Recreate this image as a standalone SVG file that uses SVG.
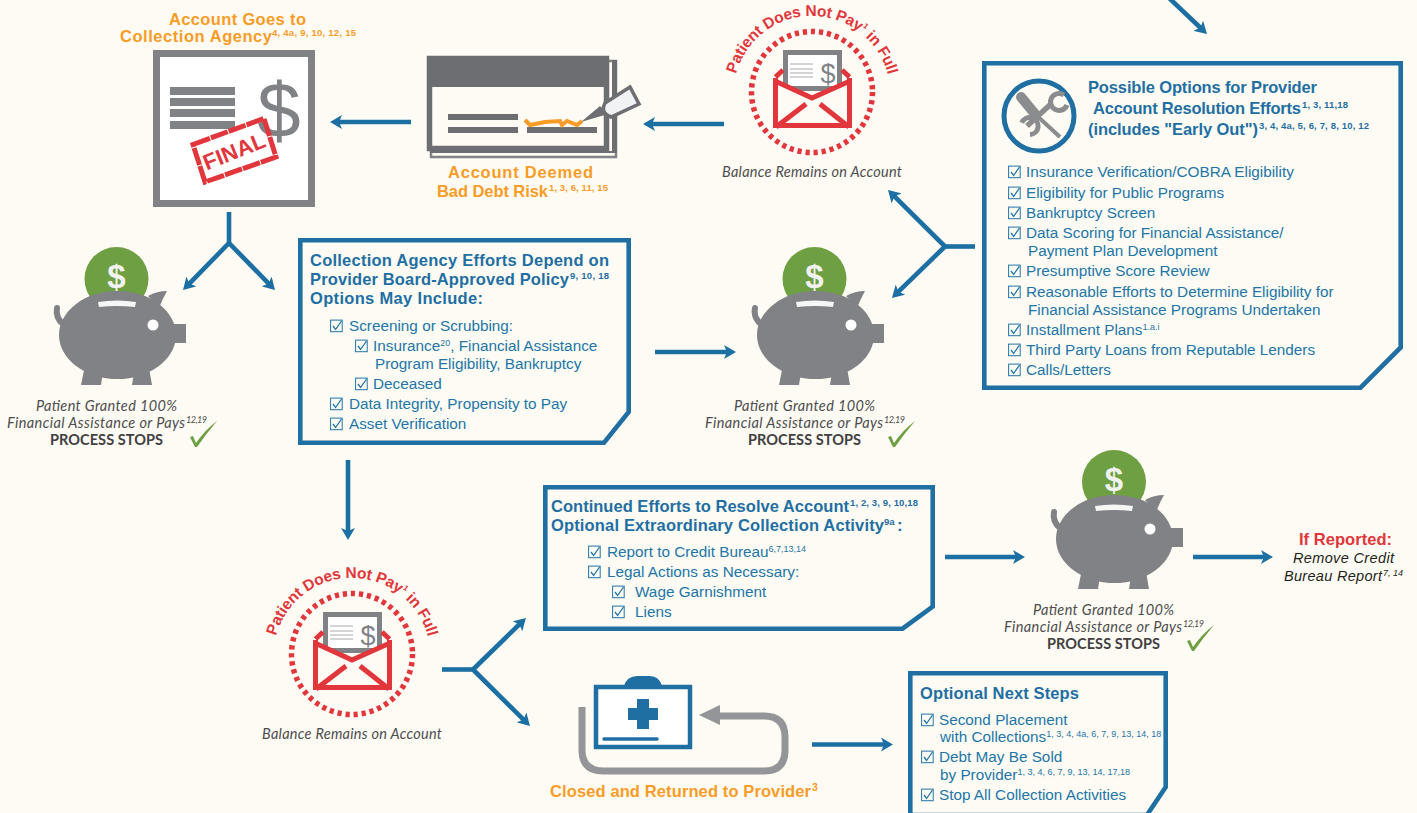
<svg xmlns="http://www.w3.org/2000/svg" xmlns:xlink="http://www.w3.org/1999/xlink" width="1417" height="813" viewBox="0 0 1417 813">
<style>
text{font-family:"Liberation Sans",Arial,sans-serif}
.hd{font-weight:700;font-size:16.5px;fill:#1f6fa3}
.hds{font-weight:700;font-size:9.5px;fill:#1f6fa3}
.it{font-size:15.3px;fill:#2176a8}
.its{font-size:9px;fill:#2176a8}
.or{font-weight:700;font-size:16.5px;fill:#f89c27}
.ors{font-weight:700;font-size:9.5px;fill:#f89c27}
.lb{font-family:Lato,"Open Sans",sans-serif;font-style:italic;font-size:14.5px;fill:#4d4d4f}
.lbs{font-family:Lato,"Open Sans",sans-serif;font-style:italic;font-size:9px;fill:#4d4d4f}
.st{font-family:Lato,"Open Sans",sans-serif;font-weight:700;font-size:14.5px;fill:#414042}
.arc{font-weight:700;font-size:15.5px;fill:#e0363c}
.box{fill:none;stroke:#1f6fa3;stroke-width:4.6}
.cn{fill:none;stroke:#1b6fa3;stroke-width:4.6}
.ar{marker-end:url(#ah)}
.usd{font-weight:700;font-size:33px;fill:#f1f2f2}
.pusd{font-size:27px;fill:#808285}
</style>
<defs>
<marker id="ah" markerUnits="userSpaceOnUse" viewBox="0 0 12 14" refX="4" refY="7" markerWidth="12" markerHeight="14" orient="auto"><path d="M12 7L0 0L3 7L0 14Z" fill="#1b6fa3"/></marker>
<symbol id="cb" viewBox="0 0 13 13" width="13" height="13" overflow="visible"><rect x=".6" y=".6" width="11.6" height="11.6" fill="none" stroke="#2176a8" stroke-width="1"/><path d="M3 6.5L5.6 10L11.5 1.5" fill="none" stroke="#2176a8" stroke-width="1.3"/></symbol>
<g id="pig">
<path d="M762 325Q753 318 755 308" fill="none" stroke="#808285" stroke-width="6" stroke-linecap="round"/>
<ellipse cx="815.5" cy="335" rx="58.5" ry="44" fill="#808285"/>
<path d="M846 296Q855 291 865 291Q861 298 857 308Z" fill="#808285"/>
<rect x="866" y="324" width="18" height="19" fill="#808285"/>
<path d="M783 365L779 385H799L801 372ZM832 372L830 385H850L846 362Z" fill="#808285"/>
<path d="M796 302Q815 299 834 302L833 307Q815 305 797 307Z" fill="#f6f6f4"/>
<circle cx="851" cy="325" r="5.5" fill="#fff"/>
</g>
<g id="env">
<circle cx="812" cy="92" r="60.5" fill="none" stroke="#e0363c" stroke-width="5.5" stroke-dasharray="4.2 3.9"/>
<rect x="785.5" y="52.5" width="54" height="36" fill="#fff" stroke="#808285" stroke-width="5"/>
<path d="M790 64H813M790 69H813M790 73H813M790 77H813" stroke="#a7a9ac" stroke-width="1"/>
<path d="M775 80L812 97L850 80V126H775Z" fill="#fdfbf3"/>
<path d="M775.5 77L783 70M849.5 77L842 70M775.5 78V125.500H849.500V78M775 81L812 98L850 81M776 127L806 104M849 127L820 104" fill="none" stroke="#e0363c" stroke-width="5"/>
</g>
<path id="a1" d="M736 74A78.600 78.600 0 0 1 888 75"/>
<path id="a2" d="M276 636A78.600 78.600 0 0 1 428 637"/>
</defs>
<rect width="1417" height="813" fill="#fdfbf3"/>

<g id="connectors">
<path class="cn ar" d="M1168-3L1201.200 28.500"/>
<path class="cn ar" d="M411 122H338"/>
<path class="cn ar" d="M724 124H651"/>
<path class="cn" d="M229 212V243"/>
<path class="cn ar" d="M229 243L188.600 284.300"/>
<path class="cn ar" d="M229 243L269.400 284.300"/>
<path class="cn" d="M975 246.500H945"/>
<path class="cn ar" d="M945 246.500L893.700 195.600"/>
<path class="cn ar" d="M945 246.500L897.700 292.400"/>
<path class="cn ar" d="M655 352H728"/>
<path class="cn ar" d="M348 460V532"/>
<path class="cn" d="M442 669.500H473"/>
<path class="cn ar" d="M473 669.500L520.200 623.500"/>
<path class="cn ar" d="M473 669.500L524.300 720.300"/>
<path class="cn ar" d="M945 557H1017"/>
<path class="cn ar" d="M1193 557H1265"/>
<path class="cn ar" d="M812 744.500H885"/>
</g>

<g id="node-collection-agency">
<text class="or" y="25" x="169"><tspan textLength="137">Account Goes to</tspan></text>
<text class="or" y="42" x="120"><tspan textLength="152">Collection Agency</tspan><tspan class="ors" x="272" dy="-6" textLength="84">4, 4a, 9, 10, 12, 15</tspan></text>
<rect x="156.500" y="53.500" width="155" height="150" fill="#fff" stroke="#808285" stroke-width="7"/>
<path d="M170 87h65v8h-65zM170 98h65v8h-65zM170 109h65v8h-65zM170 121h65v8h-65z" fill="#808285"/>
<text x="279" y="137" text-anchor="middle" style="font-size:78px;fill:#808285">$</text>
<path d="M193 144.500L264 118.500L276 157L205 182Z" fill="none" stroke="#e0363c" stroke-width="5" stroke-dasharray="18 1"/>
<text x="234" y="159" text-anchor="middle" transform="rotate(-22 234 151)" style="font-size:22px;font-weight:700;fill:#e0363c"><tspan textLength="65">FINAL</tspan></text>
</g>

<g id="node-bad-debt">
<rect x="431" y="61" width="185" height="96" fill="#fdfbf3" stroke="#808285" stroke-width="2.500"/>
<path d="M430 153H617V60H612V151H430Z" fill="#6d6e71"/>
<rect x="429.500" y="58.500" width="177" height="90" fill="#fdfbf3" stroke="#6d6e71" stroke-width="5.500"/>
<rect x="427" y="56" width="182" height="31" fill="#6d6e71"/>
<path d="M448 114h70v6h-70zM448 127h70v6h-70zM527 127h70v6h-70z" fill="#6d6e71"/>
<path d="M525 120L530 125L545 122L560 121L562 125L567 121L577 125L582 121" fill="none" stroke="#f89c27" stroke-width="4"/>
<path d="M581 122L600 106L608 114Z" fill="#6d6e71"/>
<path d="M605 103L630 87L639 104L611 117Q600 113 605 103Z" fill="#f1f2f4" stroke="#6d6e71" stroke-width="3.500"/>
<text class="or" y="178" x="448"><tspan textLength="145">Account Deemed</tspan></text>
<text class="or" y="197" x="437"><tspan textLength="111">Bad Debt Risk</tspan><tspan class="ors" x="549" dy="-6" textLength="59">1, 3, 6, 11, 15</tspan></text>
</g>

<g id="node-not-pay-1">
<use href="#env" xlink:href="#env"/>
<text class="arc"><textPath href="#a1" xlink:href="#a1" textLength="206">Patient Does Not Pay<tspan font-size="8" dy="-6">1</tspan><tspan dy="6"> in Full</tspan></textPath></text>
<text x="828" y="83" text-anchor="middle" class="pusd">$</text>
<text class="lb" y="177" x="722"><tspan textLength="180">Balance Remains on Account</tspan></text>
</g>

<g id="node-resolution-options">
<path class="box" d="M984.300 63.300H1400.700V347.500L1360.500 387.700H984.300Z"/>
<circle cx="1039" cy="116" r="35" fill="none" stroke="#1f6fa3" stroke-width="5"/>
<path d="M1021 97L1035 114" stroke="#8a8c8e" stroke-width="10" stroke-linecap="round"/>
<path d="M1035 114L1060 137" stroke="#8a8c8e" stroke-width="4"/>
<path d="M1052 103L1027 126" stroke="#8a8c8e" stroke-width="5.500"/>
<path d="M1064 95A8.500 8.500 0 1 0 1067 105" fill="none" stroke="#8a8c8e" stroke-width="5"/>
<path d="M1013 124A8.500 8.500 0 1 0 1019 137" transform="rotate(170 1021 130)" fill="none" stroke="#8a8c8e" stroke-width="5"/>
<text class="hd" y="93" x="1088"><tspan textLength="229">Possible Options for Provider</tspan></text>
<text class="hd" y="114" x="1093"><tspan textLength="208">Account Resolution Efforts</tspan><tspan class="hds" x="1302" dy="-6" textLength="46">1, 3, 11,18</tspan></text>
<text class="hd" y="135" x="1088"><tspan textLength="170">(includes "Early Out")</tspan><tspan class="hds" x="1259" dy="-6" textLength="110">3, 4, 4a, 5, 6, 7, 8, 10, 12</tspan></text>
<text class="it" x="1026" y="177">Insurance Verification/COBRA Eligibility</text>
<text class="it" x="1026" y="198">Eligibility for Public Programs</text>
<text class="it" x="1026" y="218">Bankruptcy Screen</text>
<text class="it" x="1026" y="238">Data Scoring for Financial Assistance/</text>
<text class="it" x="1028" y="256">Payment Plan Development</text>
<text class="it" x="1026" y="276">Presumptive Score Review</text>
<text class="it" x="1026" y="297">Reasonable Efforts to Determine Eligibility for</text>
<text class="it" x="1028" y="315">Financial Assistance Programs Undertaken</text>
<text class="it" x="1026" y="335">Installment Plans<tspan class="its" dy="-5">1.a.i</tspan></text>
<text class="it" x="1026" y="355">Third Party Loans from Reputable Lenders</text>
<text class="it" x="1026" y="375">Calls/Letters</text>
<use href="#cb" xlink:href="#cb" x="1008" y="165.500"/>
<use href="#cb" xlink:href="#cb" x="1008" y="186.500"/>
<use href="#cb" xlink:href="#cb" x="1008" y="206.500"/>
<use href="#cb" xlink:href="#cb" x="1008" y="226.500"/>
<use href="#cb" xlink:href="#cb" x="1008" y="264.500"/>
<use href="#cb" xlink:href="#cb" x="1008" y="285.500"/>
<use href="#cb" xlink:href="#cb" x="1008" y="323.500"/>
<use href="#cb" xlink:href="#cb" x="1008" y="343.500"/>
<use href="#cb" xlink:href="#cb" x="1008" y="363.500"/>
</g>

<g id="node-pig-1">
<circle cx="116.500" cy="279" r="32" fill="#6f9f43"/>
<text class="usd" x="116.500" y="288" text-anchor="middle">$</text>
<use href="#pig" xlink:href="#pig" x="-698"/>
<text class="lb" y="411" x="36"><tspan textLength="141">Patient Granted 100%</tspan></text>
<text class="lb" y="428" x="7"><tspan textLength="178">Financial Assistance or Pays</tspan><tspan class="lbs" x="186" dy="-5" textLength="21">12,19</tspan></text>
<text class="st" y="445" x="50"><tspan textLength="113">PROCESS STOPS</tspan></text>
<path d="M190 437L193 436L196 443Q205 430 217 421Q206 434 197 447H195Z" fill="#6f9f43"/>
</g>

<g id="node-collection-efforts">
<path class="box" d="M300.300 240.300H628.700V412L604 442.700H300.300Z"/>
<text class="hd" y="266" x="310"><tspan textLength="299">Collection Agency Efforts Depend on</tspan></text>
<text class="hd" y="285" x="310"><tspan textLength="259">Provider Board-Approved Policy</tspan><tspan class="hds" x="570" dy="-6" textLength="39">9, 10, 18</tspan></text>
<text class="hd" y="304" x="310"><tspan textLength="173">Options May Include:</tspan></text>
<text class="it" x="349" y="331">Screening or Scrubbing:</text>
<text class="it" x="373" y="351">Insurance<tspan class="its" dy="-5">20</tspan><tspan dy="5">, Financial Assistance</tspan></text>
<text class="it" x="375" y="369">Program Eligibility, Bankruptcy</text>
<text class="it" x="373" y="389">Deceased</text>
<text class="it" x="349" y="409">Data Integrity, Propensity to Pay</text>
<text class="it" x="349" y="429">Asset Verification</text>
<use href="#cb" xlink:href="#cb" x="330" y="319.500"/>
<use href="#cb" xlink:href="#cb" x="355" y="339.500"/>
<use href="#cb" xlink:href="#cb" x="355" y="377.500"/>
<use href="#cb" xlink:href="#cb" x="330" y="397.500"/>
<use href="#cb" xlink:href="#cb" x="330" y="417.500"/>
</g>

<g id="node-pig-2">
<circle cx="814.500" cy="279" r="32" fill="#6f9f43"/>
<text class="usd" x="814.500" y="288" text-anchor="middle">$</text>
<use href="#pig" xlink:href="#pig"/>
<text class="lb" y="411" x="734"><tspan textLength="141">Patient Granted 100%</tspan></text>
<text class="lb" y="428" x="705"><tspan textLength="178">Financial Assistance or Pays</tspan><tspan class="lbs" x="884" dy="-5" textLength="21">12,19</tspan></text>
<text class="st" y="445" x="748"><tspan textLength="113">PROCESS STOPS</tspan></text>
<path d="M888 437L891 436L894 443Q903 430 915 421Q904 434 895 447H893Z" fill="#6f9f43"/>
</g>

<g id="node-not-pay-2">
<use href="#env" xlink:href="#env" x="-460" y="562"/>
<text class="arc"><textPath href="#a2" xlink:href="#a2" textLength="206">Patient Does Not Pay<tspan font-size="8" dy="-6">1</tspan><tspan dy="6"> in Full</tspan></textPath></text>
<text x="368" y="645" text-anchor="middle" class="pusd">$</text>
<text class="lb" y="739" x="262"><tspan textLength="180">Balance Remains on Account</tspan></text>
</g>

<g id="node-continued-efforts">
<path class="box" d="M545.300 487.300H932.700V606.500L902.500 628.700H545.300Z"/>
<text class="hd" y="512" x="551"><tspan textLength="298">Continued Efforts to Resolve Account</tspan><tspan class="hds" x="850" dy="-6" textLength="68">1, 2, 3, 9, 10,18</tspan></text>
<text class="hd" y="531" x="551"><tspan textLength="333">Optional Extraordinary Collection Activity</tspan><tspan class="hds" x="884" dy="-6">9a</tspan><tspan x="897" dy="6">:</tspan></text>
<text class="it" x="607" y="557">Report to Credit Bureau<tspan class="its" dy="-5">6,7,13,14</tspan></text>
<text class="it" x="607" y="577">Legal Actions as Necessary:</text>
<text class="it" x="635" y="597">Wage Garnishment</text>
<text class="it" x="635" y="617">Liens</text>
<use href="#cb" xlink:href="#cb" x="588" y="545.500"/>
<use href="#cb" xlink:href="#cb" x="588" y="565.500"/>
<use href="#cb" xlink:href="#cb" x="612" y="585.500"/>
<use href="#cb" xlink:href="#cb" x="612" y="605.500"/>
</g>

<g id="node-pig-3">
<circle cx="1114" cy="482" r="32" fill="#6f9f43"/>
<text class="usd" x="1114" y="491" text-anchor="middle">$</text>
<use href="#pig" xlink:href="#pig" x="299" y="204"/>
<text class="lb" y="615" x="1033"><tspan textLength="141">Patient Granted 100%</tspan></text>
<text class="lb" y="632" x="1004"><tspan textLength="178">Financial Assistance or Pays</tspan><tspan class="lbs" x="1183" dy="-5" textLength="21">12,19</tspan></text>
<text class="st" y="649" x="1047"><tspan textLength="113">PROCESS STOPS</tspan></text>
<path d="M1187 641L1190 640L1193 647Q1202 634 1214 625Q1203 638 1194 651H1192Z" fill="#6f9f43"/>
</g>

<g id="node-if-reported">
<text x="1299" y="545" style="font-weight:700;font-size:16.500px;fill:#e0363c"><tspan textLength="93">If Reported:</tspan></text>
<text x="1293" y="563" style="font-style:italic;font-size:14.500px;fill:#231f20"><tspan textLength="101">Remove Credit</tspan></text>
<text x="1284" y="581" style="font-style:italic;font-size:14.500px;fill:#231f20"><tspan textLength="98">Bureau Report</tspan><tspan x="1383" dy="-5" style="font-size:9px" textLength="20">7, 14</tspan></text>
</g>

<g id="node-closed">
<path d="M582 707V750Q582 771 604 771H764Q785 771 785 750V737Q785 716 764 716H716" fill="none" stroke="#939598" stroke-width="7"/>
<path d="M699 715L720 705V725Z" fill="#939598"/>
<path d="M624 686Q627 676 637 676H650Q659 676 662 686Z" fill="#1f6fa3"/>
<rect x="596" y="687" width="94" height="60" fill="#fff" stroke="#1f6fa3" stroke-width="4.500"/>
<path d="M637 699H649V708H658V720H649V729H637V720H628V708H637Z" fill="#1f6fa3"/>
<path d="M604 739H657" stroke="#1f6fa3" stroke-width="3.500" stroke-linecap="round"/>
<text class="or" y="797" x="550"><tspan textLength="261">Closed and Returned to Provider</tspan><tspan class="ors" x="812" dy="-6" style="font-size:10.5px">3</tspan></text>
</g>

<g id="node-next-steps">
<path class="box" d="M910.300 673.300H1165.700V787L1147 815H910.300Z"/>
<text class="hd" y="699" x="920"><tspan textLength="159">Optional Next Steps</tspan></text>
<text class="it" x="939" y="725">Second Placement</text>
<text class="it" x="940" y="742">with Collections<tspan class="its" dy="-5">1, 3, 4, 4a, 6, 7, 9, 13, 14, 18</tspan></text>
<text class="it" x="939" y="762">Debt May Be Sold</text>
<text class="it" x="940" y="780">by Provider<tspan class="its" dy="-5">1, 3, 4, 6, 7, 9, 13, 14, 17,18</tspan></text>
<text class="it" x="939" y="800">Stop All Collection Activities</text>
<use href="#cb" xlink:href="#cb" x="921" y="713.500"/>
<use href="#cb" xlink:href="#cb" x="921" y="750.500"/>
<use href="#cb" xlink:href="#cb" x="921" y="788.500"/>
</g>
</svg>
